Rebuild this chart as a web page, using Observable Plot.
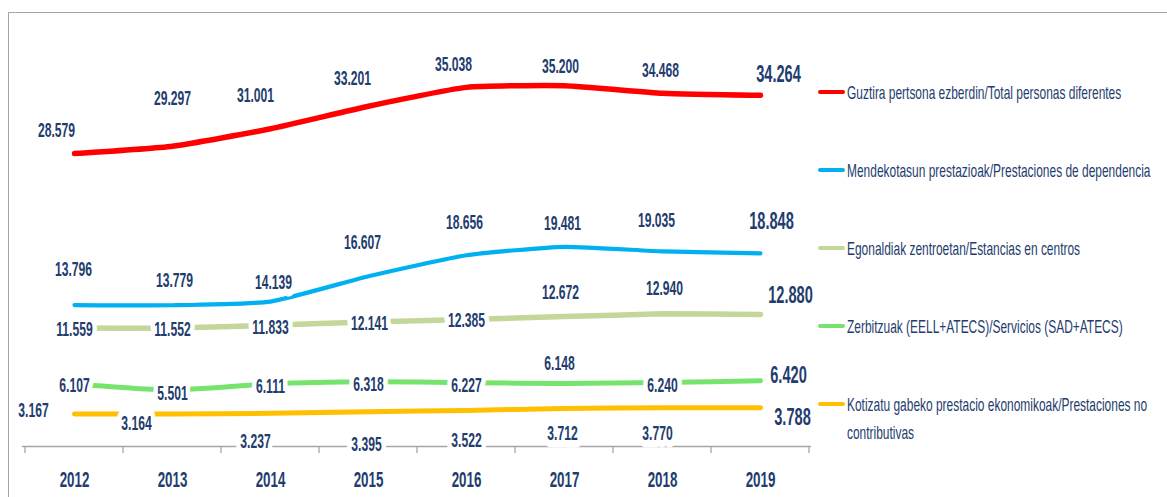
<!DOCTYPE html>
<html>
<head>
<meta charset="utf-8">
<script src="https://cdn.jsdelivr.net/npm/d3@7"></script>
<script src="https://cdn.jsdelivr.net/npm/@observablehq/plot@0.6"></script>
<style>
  html, body { margin: 0; padding: 0; background: #fff; }
  #wrap { position: relative; width: 1167px; height: 497px; overflow: hidden; background: #fff; }
  #frame { position: absolute; left: 8px; top: 12px; right: -4px; bottom: -4px;
           border-top: 1.5px solid #A6A6A6; border-left: 1.5px solid #A6A6A6; }
  #chart { position: absolute; left: 0; top: 0; }
  .lg-sw { position: absolute; left: 818px; width: 27px; height: 3.5px; border-radius: 2px; }
  .lg-tx { position: absolute; left: 847px; white-space: pre; font-size: 14.4px; line-height: 20.5px;
           color: #1F3D6E; transform: scale(0.83, 1.32); transform-origin: 0 0;
           font-family: 'Liberation Sans', Arial, sans-serif; }
</style>
</head>
<body>
<div id="wrap">
  <div id="frame"></div>
  <div id="chart"></div>
  <div id="legend"></div>
</div>
<script>
// ---------- data ----------
const years = [2012, 2013, 2014, 2015, 2016, 2017, 2018, 2019];

const seriesNames = [
  "Guztira pertsona ezberdin/Total personas diferentes",
  "Mendekotasun prestazioak/Prestaciones de dependencia",
  "Egonaldiak zentroetan/Estancias en centros",
  "Zerbitzuak (EELL+ATECS)/Servicios (SAD+ATECS)",
  "Kotizatu gabeko prestacio ekonomikoak/Prestaciones no\ncontributivas"
];

const totalPersonas   = [28579, 29297, 31001, 33201, 35038, 35200, 34468, 34264];
const dependencia     = [13796, 13779, 14139, 16607, 18656, 19481, 19035, 18848];
const centros         = [11559, 11552, 11833, 12141, 12385, 12672, 12940, 12880];
const servicios       = [6107, 5501, 6111, 6318, 6227, 6148, 6240, 6420];
const noContributivas = [3167, 3164, 3237, 3395, 3522, 3712, 3770, 3788];

// ---------- styles ----------
const seriesValues = [totalPersonas, dependencia, centros, servicios, noContributivas];
const seriesColors = ["#FF0000", "#00B0F0", "#C4D79B", "#76E46C", "#FFC000"];
const seriesWidths = [5.5, 4.2, 5.5, 5, 5];

// label nudges (px) relative to each point, per series, per year
const labelDx = [
  [-18, 0, -15, -16, -13, -4, -2, 18],
  [-1, 2, 3, -6, -2, -2, -6, 11],
  [0, 0, 0, 1, 0, -4, 2, 30],
  [0, 0, 0, 0, 0, -5, 0, 28],
  [-41, -36, -15, -2, 0, -2, -5, 32]
];
const labelDy = [
  [-23, -48, -33, -28, -23, -19, -23, -21],
  [-35, -25, -19, -34, -33, -23, -31, -32],
  [2, 2, 2, 2, 1, -24, -25, -19],
  [2, 3, 3, 3, 3, -20, 3, -5],
  [-3, 10, 28, 33, 30, 25, 26, 10]
];

const FONT = "'Liberation Sans', Arial, sans-serif";
const NAVY = "#1F3D6E";
const AXIS = "#A6A6A6";
const fmt = d3.formatLocale({decimal: ",", thousands: ".", grouping: [3], currency: ["", ""]}).format(",d");

// ---------- marks ----------
const tables = seriesValues.map((vals, s) => years.map((year, i) => ({year, value: vals[i], s, i})));

const marks = [];
marks.push(Plot.ruleY([0], {stroke: AXIS, strokeWidth: 1.3}));

// category boundary ticks on the x axis
marks.push((index, scales) => {
  const x = scales.x, y = scales.y;
  const step = x(years[1]) - x(years[0]);
  const bounds = years.map(yr => x(yr) - step / 2).concat([x(years[years.length - 1]) + step / 2]);
  const g = d3.create("svg:g").attr("stroke", AXIS).attr("stroke-width", 1.3);
  g.selectAll("line").data(bounds).join("line")
    .attr("x1", d => d).attr("x2", d => d)
    .attr("y1", y(0)).attr("y2", y(0) + 7);
  return g.node();
});

tables.forEach((rows, s) => {
  marks.push(Plot.line(rows, {
    x: "year", y: "value", stroke: seriesColors[s], strokeWidth: seriesWidths[s],
    curve: "cardinal", tension: 0.5, strokeLinecap: "round", strokeLinejoin: "round"
  }));
});

tables.forEach((rows, s) => {
  rows.forEach((row) => {
    const last = row.i === years.length - 1;
    marks.push(Plot.text([row], {
      x: "year", y: "value", text: d => fmt(d.value),
      dx: labelDx[s][row.i], dy: labelDy[s][row.i],
      fill: NAVY, fontWeight: "bold", fontSize: last ? 17.8 : 14.8, fontFamily: FONT,
      stroke: "white", strokeWidth: 11, strokeLinejoin: "round"
    }));
  });
});

marks.push(Plot.text(years, {
  x: d => d, y: () => 0, text: d => String(d), dy: 33,
  fill: NAVY, fontWeight: "bold", fontSize: 16.3, fontFamily: FONT
}));

const chart = Plot.plot({
  width: 1167,
  height: 497,
  marginLeft: 22,
  marginRight: 356,
  marginTop: 36,
  marginBottom: 51,
  x: {type: "point", domain: years, padding: 0.5, axis: null},
  y: {domain: [0, 40000], axis: null},
  style: {fontFamily: FONT, background: "transparent", overflow: "visible"},
  marks
});

// narrow, tall lettering like the original (Calibri in a stretched chart)
const isNum = v => v != null && /^-?[\d.]+$/.test(v.trim());
chart.querySelectorAll("text").forEach(t => {
  const ax = t.getAttribute("x"), ay = t.getAttribute("y");
  let pre = "";
  if (isNum(ax) || isNum(ay)) {
    pre = ` translate(${isNum(ax) ? +ax : 0},${isNum(ay) ? +ay : 0})`;
    if (isNum(ax)) t.removeAttribute("x");
    if (isNum(ay)) t.removeAttribute("y");
  }
  const tr = t.getAttribute("transform") || "";
  t.setAttribute("transform", `${tr}${pre} scale(0.82,1.35)`);
  t.setAttribute("paint-order", "stroke");
});
document.getElementById("chart").appendChild(chart);

// ---------- legend ----------
const legend = document.getElementById("legend");
seriesNames.forEach((name, s) => {
  const cy = 92 + 78 * s;
  const sw = document.createElement("div");
  sw.className = "lg-sw";
  sw.style.top = (cy - 1.75) + "px";
  sw.style.background = seriesColors[s];
  legend.appendChild(sw);
  const tx = document.createElement("div");
  tx.className = "lg-tx";
  tx.style.top = (cy - 13.5) + "px";
  tx.textContent = name;
  legend.appendChild(tx);
});
</script>
</body>
</html>
